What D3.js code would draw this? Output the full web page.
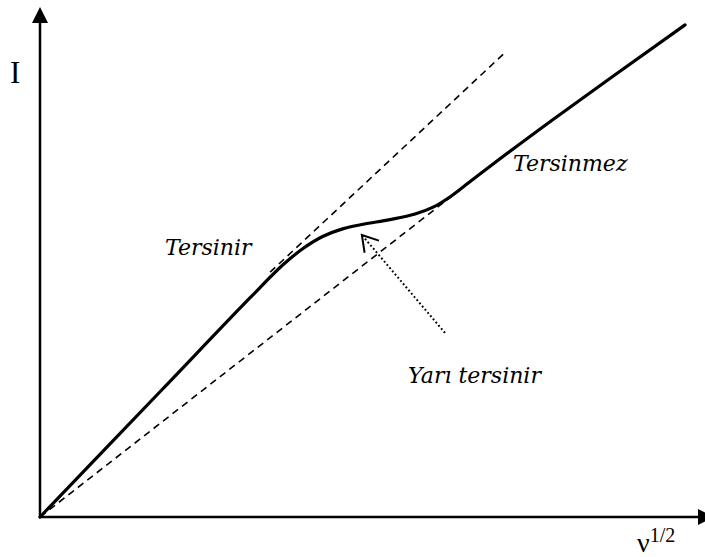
<!DOCTYPE html>
<html>
<head>
<meta charset="utf-8">
<script src="https://cdn.jsdelivr.net/npm/d3@7"></script>
<style>
  html, body { margin: 0; padding: 0; background: #fff; }
  svg { display: block; }
</style>
</head>
<body>
<svg id="chart" width="705" height="557"></svg>
<script>
// Current peak I versus square root of scan rate (ν^1/2), arbitrary units.
const peakCurveX = [0, 18.3, 31.6, 36.5, 39.5, 42.5, 45.5, 48.6, 52.6, 56.4, 59.2, 61.8, 64.5, 66.8, 77.0, 97.0];
const peakCurveY = [0, 24.9, 43.0, 49.4, 52.6, 55.0, 56.5, 57.4, 58.3, 59.4, 60.8, 62.9, 65.6, 67.9, 77.8, 96.5];

// Reversible limit (tangent to the low-rate branch)
const reversibleX = [34.6, 70.2];
const reversibleY = [48.0, 91.4];

// Irreversible limit (through the origin)
const irreversibleX = [0, 68.9];
const irreversibleY = [0, 70.0];

// Pointer to the quasi-reversible region: tail, head
const pointerX = [60.9, 48.4];
const pointerY = [36.1, 55.3];

const labels = ["Tersinir", "Tersinmez", "Yarı tersinir"];
const axisTitleY = "I";
const axisTitleX = "ν";
const axisTitleXSup = "1/2";

const svg = d3.select("#chart");
const x = d3.scaleLinear().domain([0, 100]).range([40, 705]);
const y = d3.scaleLinear().domain([0, 100]).range([517, 7]);

const pts = (xs, ys) => xs.map((v, i) => [v, ys[i]]);
const line = d3.line().x(d => x(d[0])).y(d => y(d[1]));

// Axes with filled arrowheads
svg.append("line")
  .attr("x1", x(0)).attr("y1", y(0) + 1).attr("x2", x(0)).attr("y2", y(100) + 14)
  .attr("stroke", "#000").attr("stroke-width", 2.5);
svg.append("path")
  .attr("d", `M${x(0)},${y(100)} L${x(0) - 8},${y(100) + 16} L${x(0) + 8},${y(100) + 16} Z`)
  .attr("fill", "#000");
svg.append("line")
  .attr("x1", x(0) - 1).attr("y1", y(0)).attr("x2", 700).attr("y2", y(0))
  .attr("stroke", "#000").attr("stroke-width", 2.5);
svg.append("path")
  .attr("d", `M714,${y(0)} L698,${y(0) - 8} L698,${y(0) + 8} Z`)
  .attr("fill", "#000");

// Limiting lines
svg.append("path")
  .attr("d", line(pts(reversibleX, reversibleY)))
  .attr("fill", "none").attr("stroke", "#000")
  .attr("stroke-width", 1.6).attr("stroke-dasharray", "7,5");
svg.append("path")
  .attr("d", line(pts(irreversibleX, irreversibleY)))
  .attr("fill", "none").attr("stroke", "#000")
  .attr("stroke-width", 1.6).attr("stroke-dasharray", "7,5");

// Measured peak current
svg.append("path")
  .attr("d", d3.line().x(d => x(d[0])).y(d => y(d[1])).curve(d3.curveCatmullRom.alpha(0.5))(pts(peakCurveX, peakCurveY)))
  .attr("fill", "none").attr("stroke", "#000")
  .attr("stroke-width", 3.2).attr("stroke-linecap", "round").attr("stroke-linejoin", "round");

// Dotted pointer with open arrowhead
const tail = [x(pointerX[0]), y(pointerY[0])];
const head = [x(pointerX[1]), y(pointerY[1])];
svg.append("line")
  .attr("x1", tail[0]).attr("y1", tail[1]).attr("x2", head[0]).attr("y2", head[1])
  .attr("stroke", "#000").attr("stroke-width", 2)
  .attr("stroke-dasharray", "1.8,2.4");
const ang = Math.atan2(tail[1] - head[1], tail[0] - head[0]);
const len = 18, spread = 0.55;
svg.append("path")
  .attr("d", `M${head[0] + len * Math.cos(ang - spread)},${head[1] + len * Math.sin(ang - spread)} L${head[0]},${head[1]} L${head[0] + len * Math.cos(ang + spread)},${head[1] + len * Math.sin(ang + spread)}`)
  .attr("fill", "none").attr("stroke", "#000").attr("stroke-width", 2)
  .attr("stroke-linejoin", "miter");

// Region labels
const labelFont = "'DejaVu Serif', serif";
const labelPos = [[165, 255], [513, 171], [408, 383]];
labels.forEach((t, i) => {
  svg.append("text")
    .attr("x", labelPos[i][0]).attr("y", labelPos[i][1])
    .attr("font-family", labelFont).attr("font-style", "italic")
    .attr("font-size", 22).attr("fill", "#000")
    .text(t);
});

// Axis titles
svg.append("text")
  .attr("x", 10).attr("y", 83)
  .attr("font-family", "'Liberation Serif', serif").attr("font-size", 31)
  .text(axisTitleY);
const xt = svg.append("text")
  .attr("x", 637).attr("y", 552)
  .attr("font-family", "'Liberation Serif', serif").attr("font-size", 28);
xt.append("tspan").text(axisTitleX);
xt.append("tspan").attr("font-size", 20).attr("dy", -10).text(axisTitleXSup);
</script>
</body>
</html>
